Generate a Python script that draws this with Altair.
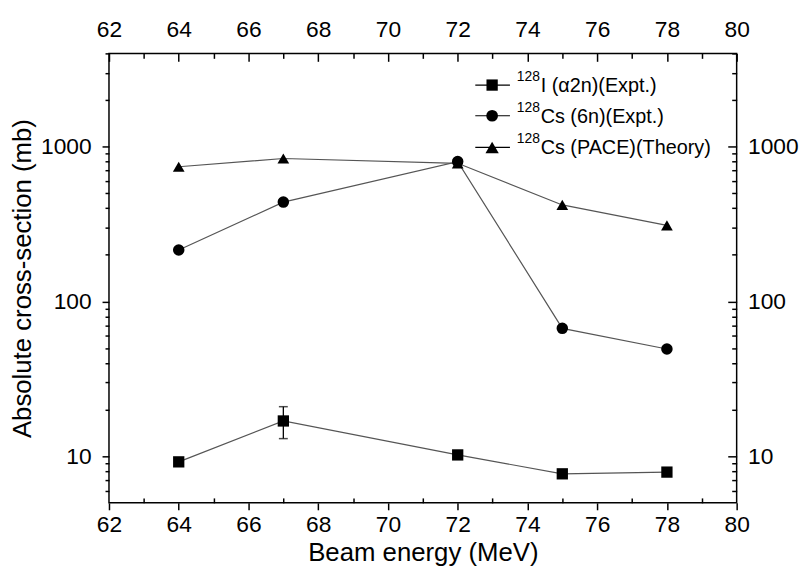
import altair as alt
import pandas as pd

# ---------------- data ----------------
energy = [64, 67, 72, 75, 78]
i128_alpha2n = [9.2, 16.9, 10.2, 7.7, 7.9]
cs128_6n = [215, 438, 800, 67, 49.3]
cs128_pace = [741, 838, 780, 420, 310]

err_x = [67]
err_lo = [13.0]
err_hi = [20.9]

series_keys = ["I128", "Cs6n", "CsPACE"]
series_shapes = ["square", "circle", "triangle-up"]
legend_sup = ["128", "128", "128"]
legend_main = ["I (\u03b12n)(Expt.)", "Cs (6n)(Expt.)", "Cs (PACE)(Theory)"]

x_major = [62, 64, 66, 68, 70, 72, 74, 76, 78, 80]
x_minor = [63, 65, 67, 69, 71, 73, 75, 77, 79]
y_major = [10, 100, 1000]
y_minor = [6, 7, 8, 9, 20, 30, 40, 50, 60, 70, 80, 90,
           200, 300, 400, 500, 600, 700, 800, 900, 2000, 3000, 4000]

x_title = "Beam energy (MeV)"
y_title = "Absolute cross-section (mb)"

# ---------------- tables ----------------
rows = []
for key, vals in zip(series_keys, [i128_alpha2n, cs128_6n, cs128_pace]):
    for e, v in zip(energy, vals):
        rows.append({"x": e, "y": v, "series": key})
df = pd.DataFrame(rows)
err_df = pd.DataFrame({"x": err_x, "lo": err_lo, "hi": err_hi})
axis_df = pd.DataFrame({"x": [70], "y": [100]})

FONT = "Liberation Sans"
W, H = 634, 454
xscale = alt.Scale(domain=[62, 80], nice=False, zero=False)
yscale = alt.Scale(type="log", domain=[5, 4000], nice=False)

common_axis = dict(grid=False, domain=False, tickColor="black", tickWidth=1.5,
                   labelColor="black", labelFont=FONT, labelFontSize=23,
                   labelFlush=False, labelOverlap=False, labelBound=False)


def axis_layer(xaxis, yaxis):
    return alt.Chart(axis_df).mark_point(opacity=0).encode(
        x=alt.X("x:Q", scale=xscale, axis=xaxis),
        y=alt.Y("y:Q", scale=yscale, axis=yaxis),
    )


# major left / bottom (outward)
ax_main = axis_layer(
    alt.Axis(orient="bottom", values=x_major, format="d", tickSize=7, labelPadding=4,
             title=x_title, titleFont=FONT, titleFontSize=26, titleFontWeight="normal",
             titleColor="black", titlePadding=3, **common_axis),
    alt.Axis(orient="left", values=y_major, format="d", tickSize=7, labelPadding=11,
             title=y_title, titleFont=FONT, titleFontSize=26, titleFontWeight="normal",
             titleColor="black", titlePadding=5, **common_axis),
)
# minor left (outward) / bottom (inward)
ax_minor = axis_layer(
    alt.Axis(orient="bottom", values=x_minor, labels=False, tickSize=5, offset=-5,
             title=None, **common_axis),
    alt.Axis(orient="left", values=y_minor, labels=False, tickSize=4,
             title=None, **common_axis),
)
# top / right majors (inward)
ax_tr = axis_layer(
    alt.Axis(orient="top", values=x_major, format="d", tickSize=8, offset=-8,
             labelPadding=12, title=None, **common_axis),
    alt.Axis(orient="right", values=y_major, format="d", tickSize=9, offset=-9,
             labelPadding=11, title=None, **common_axis),
)
# top / right minors (inward)
ax_tr_minor = axis_layer(
    alt.Axis(orient="top", values=x_minor, labels=False, tickSize=5, offset=-5,
             title=None, **common_axis),
    alt.Axis(orient="right", values=y_minor, labels=False, tickSize=5, offset=-5,
             title=None, **common_axis),
)

lines = alt.Chart(df).mark_line(color="#555555", strokeWidth=1.2).encode(
    x=alt.X("x:Q", scale=xscale, axis=None),
    y=alt.Y("y:Q", scale=yscale, axis=None),
    detail="series:N",
)

err_rule = alt.Chart(err_df).mark_rule(color="black", strokeWidth=1.3).encode(
    x=alt.X("x:Q", scale=xscale, axis=None),
    y=alt.Y("lo:Q", scale=yscale, axis=None),
    y2="hi:Q",
)
err_cap_lo = alt.Chart(err_df).mark_tick(orient="horizontal", color="black", size=9,
                                          thickness=1.5).encode(
    x=alt.X("x:Q", scale=xscale, axis=None),
    y=alt.Y("lo:Q", scale=yscale, axis=None),
)
err_cap_hi = alt.Chart(err_df).mark_tick(orient="horizontal", color="black", size=9,
                                          thickness=1.5).encode(
    x=alt.X("x:Q", scale=xscale, axis=None),
    y=alt.Y("hi:Q", scale=yscale, axis=None),
)

points = alt.Chart(df).mark_point(filled=True, opacity=1, color="black").encode(
    x=alt.X("x:Q", scale=xscale, axis=None),
    y=alt.Y("y:Q", scale=yscale, axis=None),
    shape=alt.Shape("series:N", scale=alt.Scale(domain=series_keys, range=series_shapes),
                    legend=None),
    size=alt.Size("series:N", scale=alt.Scale(domain=series_keys, range=[130, 140, 180]),
                  legend=None),
)

# ---------------- manual legend (top right, inside) ----------------
leg_rows_y = [32, 63, 95]
leg_layers = []
for i in range(3):
    yy = leg_rows_y[i]
    leg_layers.append(alt.Chart(axis_df).mark_rule(color="black", strokeWidth=1.2).encode(
        x=alt.value(370), x2=alt.value(405), y=alt.value(yy)))
    leg_layers.append(alt.Chart(axis_df).mark_point(
        filled=True, opacity=1, color="black", shape=series_shapes[i],
        size=[130, 140, 180][i]).encode(x=alt.value(387), y=alt.value(yy)))
    leg_layers.append(alt.Chart(axis_df).mark_text(
        text=legend_sup[i], font=FONT, fontSize=14, align="left", baseline="middle",
        color="black").encode(x=alt.value(412), y=alt.value(yy - 8)))
    leg_layers.append(alt.Chart(axis_df).mark_text(
        text=legend_main[i], font=FONT, fontSize=20, align="left", baseline="middle",
        color="black").encode(x=alt.value(412 + 24), y=alt.value(yy + 1)))

chart = alt.layer(
    ax_main, ax_minor, ax_tr, ax_tr_minor,
    lines, err_rule, err_cap_lo, err_cap_hi, points, *leg_layers
).resolve_axis(
    x="independent", y="independent"
).properties(
    width=W, height=H,
    autosize=alt.AutoSizeParams(type="none"),
    padding={"left": 102, "top": 43, "right": 66, "bottom": 68},
    background="white",
).configure_view(
    stroke="black", strokeWidth=1.5
)

chart.save("out.html", embed_options={"renderer": "svg", "actions": False})
